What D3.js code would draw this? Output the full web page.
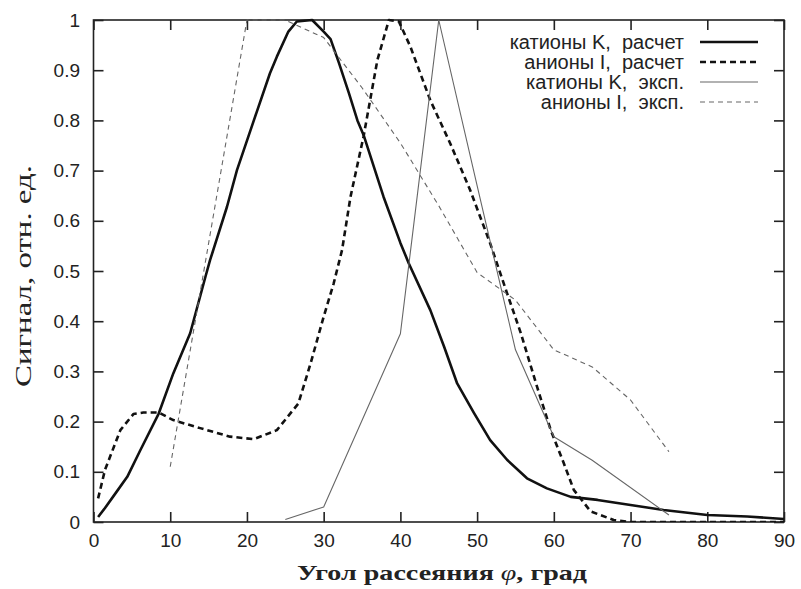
<!DOCTYPE html>
<html>
<head>
<meta charset="utf-8">
<script src="https://cdn.jsdelivr.net/npm/d3@7"></script>
<style>
  html, body { margin: 0; padding: 0; background: #fff; }
  svg { display: block; }
</style>
</head>
<body>
<svg id="chart" width="801" height="589"></svg>
<script>
// Scattering angle (degrees) and normalized signal for each curve
const kCalcAngle = [0.6, 1.5, 3, 4.4, 6.1, 8.5, 10.4, 12.6, 14.6, 15.2, 17.4, 18.7, 20.9, 23, 23.9, 25.4, 26.5, 28.5, 30, 30.9, 32, 33.3, 34.4, 35.2, 37.8, 40, 41.1, 43.9, 45.7, 47.4, 49.6, 51.7, 53.9, 56.5, 59.1, 62.2, 65.7, 70, 74.3, 80, 85.2, 90];
const kCalcValue = [0.01, 0.028, 0.06, 0.09, 0.143, 0.216, 0.296, 0.376, 0.489, 0.522, 0.628, 0.701, 0.8, 0.894, 0.927, 0.977, 0.997, 1.0, 0.977, 0.962, 0.914, 0.854, 0.8, 0.771, 0.648, 0.556, 0.515, 0.422, 0.349, 0.276, 0.217, 0.163, 0.124, 0.087, 0.067, 0.05, 0.044, 0.034, 0.024, 0.014, 0.011, 0.006];

const iCalcAngle = [0.6, 1.5, 3.5, 5.2, 6.5, 8.5, 10.4, 13.9, 17.8, 20.9, 23.9, 26.7, 28.3, 30, 31.3, 32.4, 33.5, 35.2, 37, 38.5, 39.8, 41.3, 43.9, 46.5, 49.1, 51.7, 53.9, 55.7, 57.8, 59.6, 61.3, 62.6, 64.8, 67.8, 70, 80, 90];
const iCalcValue = [0.047, 0.104, 0.183, 0.215, 0.218, 0.218, 0.203, 0.187, 0.17, 0.165, 0.183, 0.236, 0.316, 0.409, 0.475, 0.542, 0.648, 0.768, 0.92, 1.0, 0.997, 0.947, 0.84, 0.754, 0.661, 0.555, 0.456, 0.376, 0.27, 0.183, 0.117, 0.064, 0.021, 0.004, 0.0, 0.0, 0.0];

const kExpAngle = [25, 30, 40, 45, 50, 55, 60, 65, 75];
const kExpValue = [0.005, 0.03, 0.375, 1.0, 0.67, 0.343, 0.17, 0.123, 0.014];

const iExpAngle = [10, 20, 25, 30, 35, 40, 45, 50, 55, 60, 65, 70, 75];
const iExpValue = [0.11, 1.0, 1.0, 0.965, 0.865, 0.755, 0.63, 0.497, 0.442, 0.343, 0.309, 0.243, 0.14];

const xTicks = [0, 10, 20, 30, 40, 50, 60, 70, 80, 90];
const yTicks = [0, 0.1, 0.2, 0.3, 0.4, 0.5, 0.6, 0.7, 0.8, 0.9, 1];

const seriesNames = ["катионы K,  расчет", "анионы I,  расчет", "катионы K,  эксп.", "анионы I,  эксп."];

const svg = d3.select("#chart");
const frameL = 93.5, frameR = 784, frameT = 20, frameB = 522;

const x = d3.scaleLinear().domain([0, 90]).range([frameL, frameR]);
const y = d3.scaleLinear().domain([0, 1]).range([frameB, frameT]);

const tickFont = "'Liberation Sans', Arial, sans-serif";
const titleFont = "'Liberation Serif', 'DejaVu Serif', serif";

// Frame
svg.append("rect")
  .attr("x", frameL).attr("y", frameT)
  .attr("width", frameR - frameL).attr("height", frameB - frameT)
  .attr("fill", "none").attr("stroke", "#222").attr("stroke-width", 1.6);

// Axes: inward ticks on all four sides
const tickLen = 10;
const gB = svg.append("g").attr("transform", `translate(0,${frameB})`)
  .call(d3.axisBottom(x).tickValues(xTicks).tickSizeInner(-tickLen).tickSizeOuter(0).tickPadding(12).tickFormat(d3.format("d")));
const gT = svg.append("g").attr("transform", `translate(0,${frameT})`)
  .call(d3.axisTop(x).tickValues(xTicks).tickSizeInner(-tickLen).tickSizeOuter(0).tickFormat(""));
const gL = svg.append("g").attr("transform", `translate(${frameL},0)`)
  .call(d3.axisLeft(y).tickValues(yTicks).tickSizeInner(-tickLen).tickSizeOuter(0).tickPadding(13.5).tickFormat(d => d === 0 || d === 1 ? d3.format("d")(d) : d3.format(".1f")(d)));
const gR = svg.append("g").attr("transform", `translate(${frameR},0)`)
  .call(d3.axisRight(y).tickValues(yTicks).tickSizeInner(-tickLen).tickSizeOuter(0).tickFormat(""));

[gB, gT, gL, gR].forEach(g => {
  g.select(".domain").remove();
  g.selectAll(".tick line").attr("stroke", "#222").attr("stroke-width", 1.6);
  g.selectAll(".tick text").attr("font-family", tickFont).attr("font-size", 19).attr("fill", "#222");
});

// Curves
const line = d3.line().x(d => x(d[0])).y(d => y(d[1]));
const styles = [
  { angle: kCalcAngle, value: kCalcValue, stroke: "#111", width: 2.6, dash: null },
  { angle: iCalcAngle, value: iCalcValue, stroke: "#111", width: 2.6, dash: "6,4" },
  { angle: kExpAngle, value: kExpValue, stroke: "#666", width: 1.1, dash: null },
  { angle: iExpAngle, value: iExpValue, stroke: "#666", width: 1.1, dash: "5,4" }
];

const plot = svg.append("g");
plot.append("clipPath").attr("id", "clip").append("rect")
  .attr("x", frameL).attr("y", frameT - 2).attr("width", frameR - frameL).attr("height", frameB - frameT + 2);

styles.forEach(s => {
  plot.append("path")
    .datum(s.angle.map((a, i) => [a, s.value[i]]))
    .attr("d", line)
    .attr("fill", "none")
    .attr("stroke", s.stroke)
    .attr("stroke-width", s.width)
    .attr("stroke-linejoin", "round")
    .attr("stroke-dasharray", s.dash)
    .attr("clip-path", "url(#clip)");
});

// Legend
const legend = svg.append("g");
styles.forEach((s, i) => {
  const ly = 42 + i * 20;
  legend.append("text")
    .attr("x", 684).attr("y", ly).attr("dy", "0.35em")
    .attr("text-anchor", "end")
    .attr("font-family", tickFont).attr("font-size", 20).attr("fill", "#222")
    .style("white-space", "pre")
    .text(seriesNames[i]);
  legend.append("line")
    .attr("x1", 700).attr("x2", 758).attr("y1", ly).attr("y2", ly)
    .attr("stroke", s.stroke).attr("stroke-width", s.width)
    .attr("stroke-dasharray", s.dash);
});

// Axis titles
const xTitle = svg.append("text")
  .attr("x", 442).attr("y", 580)
  .attr("text-anchor", "middle")
  .attr("textLength", 290).attr("lengthAdjust", "spacingAndGlyphs")
  .attr("font-family", titleFont).attr("font-size", 21).attr("font-weight", "bold").attr("fill", "#222");
xTitle.append("tspan").text("Угол рассеяния ");
xTitle.append("tspan").attr("font-style", "italic").attr("font-weight", "normal").text("φ");
xTitle.append("tspan").text(", град");

svg.append("text")
  .attr("transform", `translate(23,276) rotate(-90)`)
  .attr("dy", "0.35em")
  .attr("text-anchor", "middle")
  .attr("textLength", 222).attr("lengthAdjust", "spacingAndGlyphs")
  .attr("font-family", titleFont).attr("font-size", 24).attr("fill", "#222")
  .text("Сигнал, отн. ед.");
</script>
</body>
</html>
